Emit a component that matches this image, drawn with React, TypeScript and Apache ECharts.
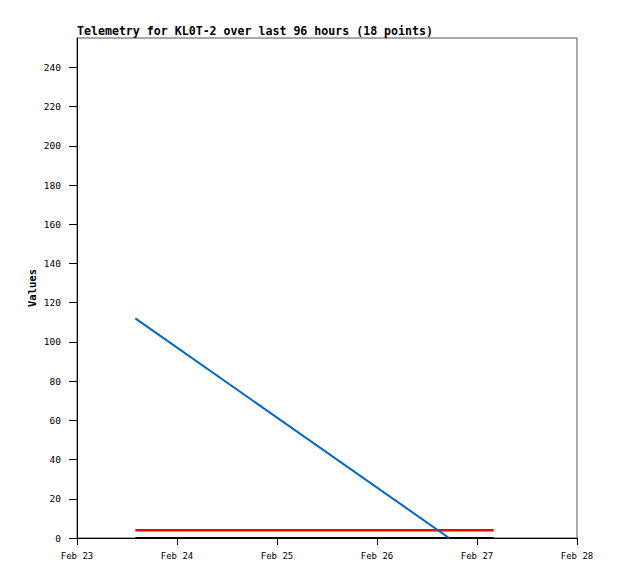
import React, { useEffect, useRef } from "react";
import * as echarts from "echarts";

// x values are hours since Feb 23 00:00
const xTicks = [0, 24, 48, 72, 96, 120];
const xTickLabels = ["Feb 23", "Feb 24", "Feb 25", "Feb 26", "Feb 27", "Feb 28"];
const yTicks = [0, 20, 40, 60, 80, 100, 120, 140, 160, 180, 200, 220, 240];

const blueX = [14, 89.3];
const blueY = [112, 0];
const redX = [14, 100];
const redY = [4, 4];
const blackX = [14, 100];
const blackY = [0, 0];

const FONT = "DejaVu Sans Mono";

export default function App() {
  const ref = useRef<HTMLDivElement>(null);
  useEffect(() => {
    if (!ref.current) return;
    const chart = echarts.init(ref.current, null, { renderer: "svg" });
    const pairs = (xs: number[], ys: number[]) => xs.map((x, i) => [x, ys[i]]);
    chart.setOption({
      animation: false,
      backgroundColor: "#ffffff",
      title: {
        text: "Telemetry for KL0T-2 over last 96 hours (18 points)",
        left: 77,
        top: 25,
        padding: 0,
        textStyle: { fontFamily: FONT, fontSize: 11.6, fontWeight: "bold", color: "#000" },
      },
      grid: {
        left: 77,
        right: 41,
        top: 38,
        bottom: 41,
        show: true,
        borderColor: "#555",
        borderWidth: 1,
        backgroundColor: "transparent",
      },
      xAxis: {
        type: "value",
        min: 0,
        max: 120,
        interval: 24,
        splitLine: { show: false },
        axisLine: { show: true, lineStyle: { color: "#000", width: 1 } },
        axisTick: { show: true, length: 7, lineStyle: { color: "#000" } },
        axisLabel: {
          margin: 13,
          fontFamily: FONT,
          fontSize: 9,
          color: "#000",
          formatter: (v: number) => {
            const i = xTicks.indexOf(v);
            return i >= 0 ? xTickLabels[i] : "";
          },
        },
      },
      yAxis: {
        type: "value",
        min: 0,
        max: 255,
        name: "Values",
        nameLocation: "middle",
        nameGap: 40,
        nameMoveOverlap: false,
        nameTextStyle: { fontFamily: FONT, fontSize: 10.5, fontWeight: "bold", color: "#000" },
        splitLine: { show: false },
        axisLine: { show: true, lineStyle: { color: "#000", width: 1 } },
        axisTick: { show: true, length: 8, lineStyle: { color: "#000" }, customValues: yTicks },
        axisLabel: {
          margin: 16,
          fontFamily: FONT,
          fontSize: 9.5,
          color: "#000",
          customValues: yTicks,
        },
      },
      series: [
        {
          type: "line",
          data: pairs(blackX, blackY),
          showSymbol: false,
          lineStyle: { color: "#000000", width: 2 },
          z: 3,
        },
        {
          type: "line",
          data: pairs(redX, redY),
          showSymbol: false,
          lineStyle: { color: "#ff0000", width: 2.5 },
          z: 4,
        },
        {
          type: "line",
          data: pairs(blueX, blueY),
          showSymbol: false,
          lineStyle: { color: "#0066cc", width: 2 },
          z: 5,
        },
      ],
    });
    return () => chart.dispose();
  }, []);
  return <div ref={ref} style={{ width: 618, height: 579, margin: -8 }} />;
}
